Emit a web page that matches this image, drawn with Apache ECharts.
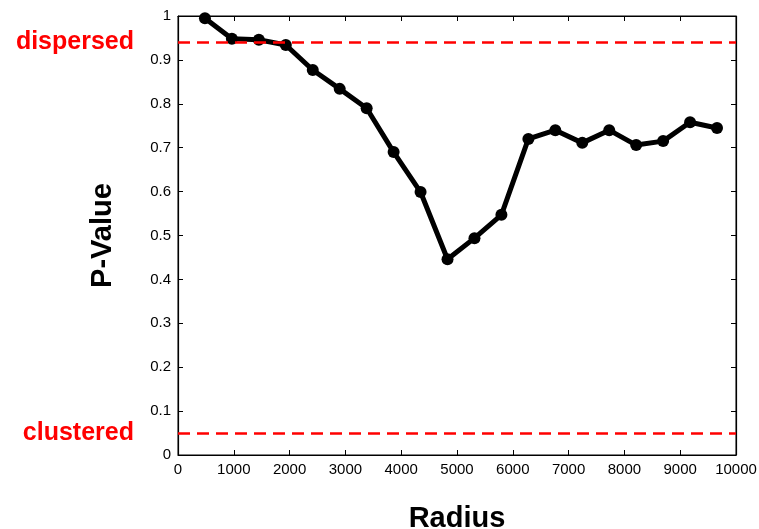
<!DOCTYPE html>
<html>
<head>
<meta charset="utf-8">
<script src="https://cdn.jsdelivr.net/npm/echarts@6/dist/echarts.min.js"></script>
<style>
  html, body { margin: 0; padding: 0; background: #fff; }
  #chart { width: 759px; height: 529px; }
</style>
</head>
<body>
<div id="chart"></div>
<script>
// data
const radius = [483, 966, 1449, 1932, 2415, 2898, 3381, 3864, 4347, 4830,
  5313, 5796, 6279, 6762, 7245, 7728, 8211, 8694, 9177, 9660];
const pValue = [0.995, 0.948, 0.946, 0.934, 0.877, 0.834, 0.790, 0.690, 0.599, 0.446,
  0.494, 0.547, 0.720, 0.740, 0.711, 0.740, 0.706, 0.715, 0.758, 0.745];
const thresholds = [
  { name: 'dispersed', value: 0.937 },
  { name: 'clustered', value: 0.049 },
];

const chart = echarts.init(document.getElementById('chart'));

const font = 'Liberation Sans, Arial, sans-serif';
const tick = () => ({ show: true, inside: true, length: 5, lineStyle: { color: '#000', width: 1 } });
const line = () => ({ show: true, onZero: false, lineStyle: { color: '#000', width: 1.2 } });
const nameStyle = () => ({ fontSize: 29, fontWeight: 'bold', color: '#000', fontFamily: font });

const option = {
  animation: false,
  textStyle: { fontFamily: font },
  grid: {
    left: 178, right: 23, top: 16, bottom: 74,
    outerBoundsMode: 'none',
    show: true, borderColor: '#000', borderWidth: 1,
  },
  xAxis: [
    {
      type: 'value', min: 0, max: 10000, interval: 1000,
      name: 'Radius', nameLocation: 'middle', nameGap: 49,
      nameTextStyle: nameStyle(),
      axisLine: line(), axisTick: tick(), splitLine: { show: false },
      axisLabel: { color: '#000', fontSize: 15, margin: 7, fontFamily: font, formatter: v => String(v) },
    },
    {
      type: 'value', min: 0, max: 10000, interval: 1000, position: 'top',
      axisLine: line(), axisTick: tick(), splitLine: { show: false },
      axisLabel: { show: false },
    },
  ],
  yAxis: [
    {
      type: 'value', min: 0, max: 1, interval: 0.1,
      name: 'P-Value', nameLocation: 'middle', nameGap: 61,
      nameTextStyle: nameStyle(),
      axisLine: line(), axisTick: tick(), splitLine: { show: false },
      axisLabel: {
        color: '#000', fontSize: 15, margin: 7, fontFamily: font,
        formatter: v => String(Math.round(v * 10) / 10),
      },
    },
    {
      type: 'value', min: 0, max: 1, interval: 0.1, position: 'right',
      axisLine: line(), axisTick: tick(), splitLine: { show: false },
      axisLabel: { show: false },
    },
  ],
  series: [
    {
      type: 'line',
      data: radius.map((r, i) => [r, pValue[i]]),
      symbol: 'circle',
      symbolSize: 12,
      itemStyle: { color: '#000' },
      lineStyle: { color: '#000', width: 5 },
      z: 3,
      markLine: {
        silent: true,
        symbol: 'none',
        lineStyle: { color: '#ff0000', type: [12, 7], width: 2.5 },
        label: {
          position: 'start',
          distance: 44,
          color: '#ff0000',
          fontSize: 25,
          fontWeight: 'bold',
          fontFamily: font,
          formatter: p => p.name,
        },
        data: thresholds.map(t => ({ name: t.name, yAxis: t.value })),
      },
    },
    // empty series so the mirrored top/right axes get drawn
    { type: 'line', xAxisIndex: 1, yAxisIndex: 1, data: [], silent: true },
  ],
};

chart.setOption(option);
</script>
</body>
</html>
